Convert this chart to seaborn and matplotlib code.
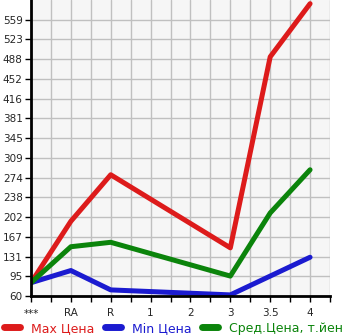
import matplotlib
matplotlib.use("Agg")
import matplotlib.pyplot as plt
import seaborn as sns
import pandas as pd
import numpy as np
from matplotlib.lines import Line2D

categories = ["***", "RA", "R", "1", "2", "3", "3.5", "4"]
point_cats = ["***", "RA", "R", "3", "3.5", "4"]
max_price = [84, 195, 279, 147, 492, 588]
min_price = [84, 106, 71, 62, 96, 130]
avg_price = [84, 149, 157, 96, 210, 288]
ytick_labels = ["60", "95", "131", "167", "202", "238", "274", "309", "345",
                "381", "416", "452", "488", "523", "559"]
series_names = ["Max Цена", "Min Цена", "Сред.Цена, т.йен"]
colors = ["#dd1b1b", "#1b1bd0", "#0b840b"]

sns.set_theme(style="white")
plt.rcParams['font.family'] = ['DejaVu Sans']

xpos = [categories.index(c) for c in point_cats]
df = pd.concat([
    pd.DataFrame({"x": xpos, "y": vals, "s": name})
    for name, vals in zip(series_names, [max_price, min_price, avg_price])
])

fig = plt.figure(figsize=(3.45, 3.35), dpi=100)
ax = fig.add_axes([31/345, 39/335, 299/345, 296/335])
ax.set_facecolor("#f6f6f6")

sns.lineplot(data=df, x="x", y="y", hue="s", palette=colors, linewidth=3.6,
             ax=ax, legend=False, sort=False)
for l in ax.lines:
    l.set_solid_capstyle("round")
    l.set_solid_joinstyle("round")

ymin = float(ytick_labels[0])
step = (float(ytick_labels[-1]) - ymin) / (len(ytick_labels) - 1)
yt = [ymin + i * step for i in range(len(ytick_labels))]
ax.set_ylim(ymin, ymin + len(ytick_labels) * step)
ax.set_yticks(yt)
ax.set_yticklabels(ytick_labels, fontsize=7.5)
ax.set_xlim(0, len(categories) - 0.5)
ax.set_xticks(range(len(categories)))
ax.set_xticklabels(categories, fontsize=7.5)
ax.set_xticks(np.arange(0.5, len(categories), 1.0), minor=True)
ax.grid(True, which="both", color="#c0c0c0", linewidth=1.0)
ax.set_axisbelow(True)
ax.tick_params(axis="both", which="both", direction="out", length=4, width=1,
               color="black", pad=2, bottom=True, left=True)
ax.tick_params(axis="x", pad=5)
ax.set_xlabel("")
ax.set_ylabel("")
for side in ["top", "right"]:
    ax.spines[side].set_visible(False)
for side in ["left", "bottom"]:
    ax.spines[side].set_color("black")
    ax.spines[side].set_linewidth(2)

handles = [Line2D([0], [0], color=c, linewidth=5, solid_capstyle="round") for c in colors]
leg = fig.legend(handles, series_names, loc="lower left", bbox_to_anchor=(-0.004, -0.014),
                 ncol=3, frameon=False, fontsize=9, handlelength=1.28,
                 handletextpad=0.9, columnspacing=0.84, borderaxespad=0.2,
                 borderpad=0.2)
for t, c in zip(leg.get_texts(), colors):
    t.set_color(c)

fig.savefig("out.png", dpi=100)
